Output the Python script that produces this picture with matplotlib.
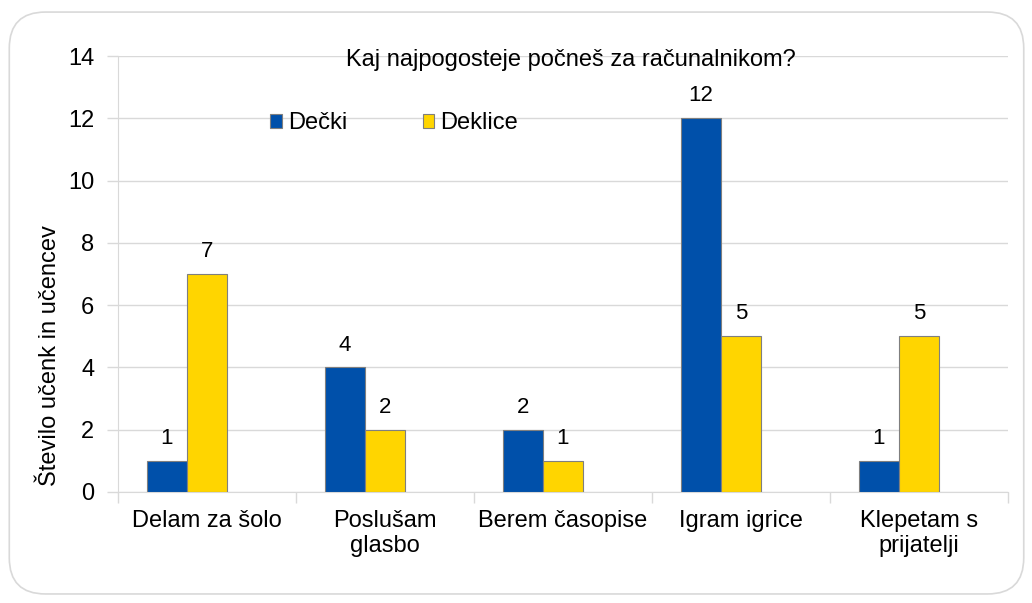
import matplotlib.pyplot as plt
import numpy as np
from matplotlib.patches import FancyBboxPatch

plt.rcParams['font.family'] = ['Liberation Sans', 'DejaVu Sans']

categories = ['Delam za šolo', 'Poslušam\nglasbo', 'Berem časopise', 'Igram igrice', 'Klepetam s\nprijatelji']
decki = [1, 4, 2, 12, 1]
deklice = [7, 2, 1, 5, 5]

fig = plt.figure(figsize=(10.32, 6.03), dpi=100)

# rounded outer frame, behind the axes
frame = FancyBboxPatch((0.009, 0.015), 0.983, 0.965, boxstyle="round,pad=0,rounding_size=0.035",
                       transform=fig.transFigure, facecolor='white', edgecolor='#d9d9d9', linewidth=1.2,
                       mutation_aspect=1032 / 603, zorder=-10)
fig.patches.append(frame)

ax = fig.add_axes([0.1143, 0.1841, 0.8624, 0.723])
ax.set_facecolor('none')
ax.set_zorder(1)

fs = 17

x = np.arange(len(categories))
w = 0.225
b1 = ax.bar(x - w, decki, w, color='#0050AA', edgecolor='#7f7f7f', linewidth=0.8,
            label='Dečki', zorder=3)
b2 = ax.bar(x, deklice, w, color='#FFD500', edgecolor='#7f7f7f', linewidth=0.8,
            label='Deklice', zorder=3)

for bars in (b1, b2):
    for rect in bars:
        h = rect.get_height()
        ax.text(rect.get_x() + rect.get_width() / 2, h + 0.38, f'{int(h)}', ha='center', va='bottom',
                fontsize=fs - 1)

ax.set_xlim(-0.5, len(categories) - 0.5)
ax.set_ylim(0, 14)
ax.set_yticks(range(0, 15, 2))
ax.set_yticklabels([str(v) for v in range(0, 15, 2)], fontsize=fs)
ax.yaxis.grid(True, color='#d9d9d9', linewidth=1, zorder=0)
ax.set_axisbelow(True)

ax.set_xticks(x)
ax.set_xticklabels(categories, fontsize=fs, linespacing=1.2)
ax.tick_params(axis='x', length=0, pad=13)
ax.set_xticks(np.arange(-0.5, len(categories)), minor=True)
ax.tick_params(axis='x', which='minor', length=8, color='#d9d9d9', width=1)
ax.tick_params(axis='y', length=8, color='#d9d9d9', width=1, pad=9)

for side in ['top', 'right']:
    ax.spines[side].set_visible(False)
ax.spines['left'].set_color('#d9d9d9')
ax.spines['bottom'].set_color('#d9d9d9')

ax.set_ylabel('Število učenk in učencev', fontsize=fs)
ax.yaxis.set_label_coords(-0.064, 0.312)

ax.text(0.509, 0.99, 'Kaj najpogosteje počneš za računalnikom?', transform=ax.transAxes,
        ha='center', va='center', fontsize=fs)

ax.legend(loc='center left', bbox_to_anchor=(0.171, 0.846), ncol=2, frameon=False, fontsize=fs,
          handlelength=0.5, handleheight=0.5, handletextpad=0.25, columnspacing=3.2,
          borderpad=0, borderaxespad=0)

fig.savefig('out.png', dpi=100)
